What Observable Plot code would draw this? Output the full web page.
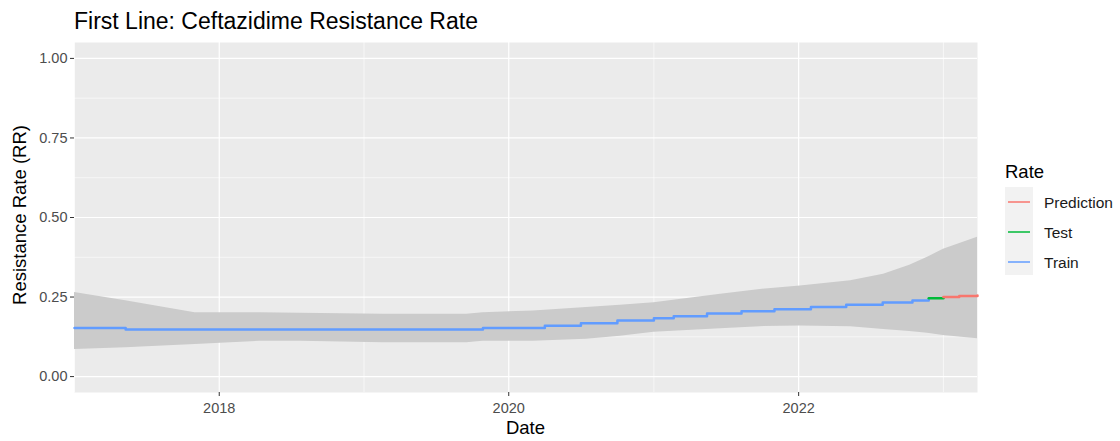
<!DOCTYPE html>
<html>
<head>
<meta charset="utf-8">
<script src="https://cdn.jsdelivr.net/npm/d3@7"></script>
<script src="https://cdn.jsdelivr.net/npm/@observablehq/plot@0.6"></script>
<style>
  html, body { margin: 0; padding: 0; background: #ffffff; }
  body { font-family: "Liberation Sans", Arial, sans-serif; }
  #wrap { position: relative; width: 1120px; height: 441px; overflow: hidden; }
  #wrap svg { position: absolute; left: 0; top: 0; }
  .title { position: absolute; left: 74px; top: 8px; font-size: 23px; color: #000; white-space: nowrap; }
  .xtitle { position: absolute; left: 0; top: 417px; text-align: center; font-size: 18.5px; color: #000; }
  .ytitle { position: absolute; left: 20px; top: 215px; font-size: 18.5px; color: #000; white-space: nowrap;
            transform: translate(-50%, -50%) rotate(-90deg); transform-origin: center; }
  .legend { position: absolute; left: 1005px; top: 161px; }
  .legend .lt { font-size: 18.5px; color: #000; }
  .legend .keys { position: absolute; left: 0; top: 26px; width: 28px; height: 88px; background: #F2F2F2; }
  .legend .row { position: absolute; left: 0; height: 30px; width: 120px; }
  .legend .sw { position: absolute; left: 3px; width: 22px; height: 2.4px; top: 14px; opacity: 0.75; }
  .legend .lab { position: absolute; left: 39px; top: 7px; font-size: 15.5px; color: #1a1a1a; white-space: nowrap; }
</style>
</head>
<body>
<div id="wrap">
  <div class="title">First Line: Ceftazidime Resistance Rate</div>
</div>
<script>
// ---- data ----
const seriesNames = ["Prediction", "Test", "Train"];
const seriesColors = ["#F8766D", "#00BA38", "#619CFF"];

const trainDates = ["2017-01-01","2017-05-10","2019-10-28","2020-04-01","2020-07-01","2020-10-01","2021-01-01","2021-02-20","2021-05-15","2021-08-10","2021-11-01","2022-02-01","2022-05-01","2022-08-01","2022-10-15","2022-11-25"];
const trainValues = [0.153,0.148,0.153,0.160,0.168,0.176,0.183,0.190,0.198,0.205,0.212,0.219,0.226,0.233,0.239,0.242];

const testDates = ["2022-11-25","2023-01-01"];
const testValues = [0.246,0.246];

const predDates = ["2023-01-01","2023-02-10","2023-03-28"];
const predValues = [0.250,0.253,0.255];

const ribbonDates = ["2017-01-01","2017-05-10","2017-11-01","2018-04-13","2018-07-24","2019-02-18","2019-09-17","2019-10-28","2020-03-03","2020-07-15","2020-10-08","2021-01-01","2021-06-18","2021-09-26","2022-01-05","2022-05-12","2022-08-03","2022-10-08","2022-11-22","2023-01-01","2023-03-28"];
const ribbonUpper = [0.264,0.238,0.201,0.201,0.199,0.196,0.196,0.201,0.206,0.217,0.224,0.232,0.259,0.274,0.285,0.301,0.322,0.350,0.375,0.400,0.438];
const ribbonLower = [0.085,0.091,0.101,0.111,0.111,0.106,0.106,0.111,0.111,0.117,0.127,0.139,0.150,0.157,0.159,0.157,0.148,0.142,0.136,0.129,0.119];

const xDomain = ["2017-01-01","2023-03-28"];
const yDomain = [-0.05, 1.05];
const yMajor = [0, 0.25, 0.5, 0.75, 1];
const yMinor = [0.125, 0.375, 0.625, 0.875];
const xMajor = ["2018-01-01","2020-01-01","2022-01-01"];
const xMinor = ["2017-01-01","2019-01-01","2021-01-01","2023-01-01"];

// ---- build tables ----
const P = s => new Date(s + "T00:00:00Z");
const rows = [
  ...trainDates.map((d, i) => ({date: P(d), value: trainValues[i], series: "Train"})),
  ...testDates.map((d, i) => ({date: P(d), value: testValues[i], series: "Test"})),
  ...predDates.map((d, i) => ({date: P(d), value: predValues[i], series: "Prediction"}))
];
const ribbon = ribbonDates.map((d, i) => ({date: P(d), hi: ribbonUpper[i], lo: ribbonLower[i]}));

const chart = Plot.plot({
  width: 1120,
  height: 441,
  marginLeft: 74,
  marginRight: 143,
  marginTop: 42,
  marginBottom: 49,
  style: {fontFamily: "'Liberation Sans', Arial, sans-serif", background: "transparent"},
  x: {type: "utc", domain: xDomain.map(P)},
  y: {domain: yDomain},
  color: {domain: seriesNames, range: seriesColors},
  marks: [
    Plot.frame({fill: "#EBEBEB", stroke: "none"}),
    Plot.ruleY(yMinor, {stroke: "#ffffff", strokeWidth: 0.6}),
    Plot.ruleX(xMinor.map(P), {stroke: "#ffffff", strokeWidth: 0.6}),
    Plot.ruleY(yMajor, {stroke: "#ffffff", strokeWidth: 1.2}),
    Plot.ruleX(xMajor.map(P), {stroke: "#ffffff", strokeWidth: 1.2}),
    Plot.areaY(ribbon, {x: "date", y1: "lo", y2: "hi", fill: "#CBCBCB"}),
    Plot.line(rows, {x: "date", y: "value", z: "series", stroke: "series", curve: "step-after", strokeWidth: 2.5}),
    Plot.axisY(yMajor, {tickFormat: d3.format(".2f"), tickSize: 4, tickPadding: 3, fontSize: 14.5, fill: "#4D4D4D", stroke: "#333333", label: null}),
    Plot.axisX(xMajor.map(P), {tickFormat: d3.utcFormat("%Y"), tickSize: 4, tickPadding: 6, fontSize: 14.5, fill: "#4D4D4D", stroke: "#333333", label: null})
  ]
});

const wrap = document.getElementById("wrap");
wrap.appendChild(chart);

const xt = document.createElement("div");
xt.className = "xtitle"; xt.textContent = "Date";
xt.style.width = (74 + 977) + "px";
wrap.appendChild(xt);

const yt = document.createElement("div");
yt.className = "ytitle"; yt.textContent = "Resistance Rate (RR)";
wrap.appendChild(yt);

const lg = document.createElement("div");
lg.className = "legend";
let html = '<div class="lt">Rate</div><div class="keys"></div>';
seriesNames.forEach((n, i) => {
  html += `<div class="row" style="top:${26 + i * 30}px"><div class="sw" style="background:${seriesColors[i]}"></div><div class="lab">${n}</div></div>`;
});
lg.innerHTML = html;
wrap.appendChild(lg);
</script>
</body>
</html>
